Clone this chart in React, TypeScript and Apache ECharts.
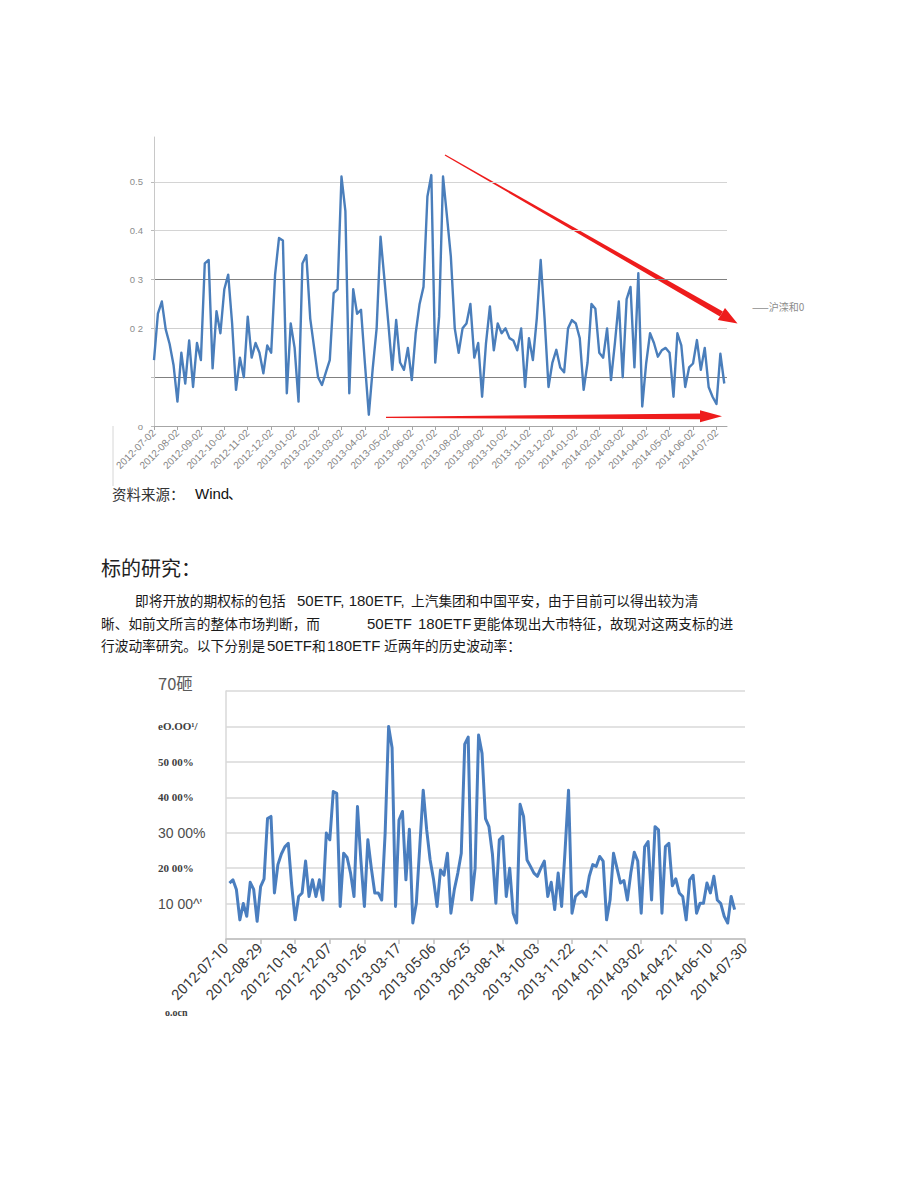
import React, { useEffect, useRef } from 'react';
import * as echarts from 'echarts';

// ---------- Chart 1 (沪深300 volatility, monthly ticks) ----------
const monthLabels1 = [
  '2012-07-02', '2012-08-02', '2012-09-02', '2012-10-02', '2012-11-02', '2012-12-02',
  '2013-01-02', '2013-02-02', '2013-03-02', '2013-04-02', '2013-05-02', '2013-06-02',
  '2013-07-02', '2013-08-02', '2013-09-02', '2013-10-02', '2013-11-02', '2013-12-02',
  '2014-01-02', '2014-02-02', '2014-03-02', '2014-04-02', '2014-05-02', '2014-06-02',
  '2014-07-02',
];
// samples every 1/6 month starting 2012-07-02
const vol1 = [
  0.135, 0.23, 0.255, 0.198, 0.168, 0.125, 0.05, 0.15, 0.087, 0.175,
  0.08, 0.17, 0.135, 0.333, 0.34, 0.118, 0.235, 0.19, 0.28, 0.31,
  0.21, 0.074, 0.14, 0.10, 0.224, 0.14, 0.17, 0.15, 0.108, 0.165,
  0.15, 0.31, 0.385, 0.38, 0.067, 0.21, 0.16, 0.05, 0.333, 0.35,
  0.22, 0.16, 0.1, 0.084, 0.11, 0.135, 0.272, 0.28, 0.511, 0.44,
  0.067, 0.28, 0.23, 0.238, 0.128, 0.023, 0.118, 0.2, 0.388, 0.3,
  0.21, 0.115, 0.217, 0.13, 0.115, 0.16, 0.094, 0.19, 0.25, 0.285,
  0.47, 0.514, 0.13, 0.224, 0.511, 0.43, 0.347, 0.2, 0.15, 0.2,
  0.21, 0.25, 0.14, 0.17, 0.06, 0.17, 0.245, 0.155, 0.21, 0.19,
  0.2, 0.18, 0.175, 0.155, 0.2, 0.08, 0.18, 0.135, 0.22, 0.34,
  0.22, 0.08, 0.13, 0.156, 0.12, 0.11, 0.2, 0.217, 0.21, 0.18,
  0.074, 0.13, 0.25, 0.24, 0.15, 0.14, 0.2, 0.094, 0.17, 0.255,
  0.10, 0.26, 0.285, 0.12, 0.313, 0.04, 0.128, 0.19, 0.17, 0.142,
  0.155, 0.16, 0.15, 0.06, 0.19, 0.165, 0.08, 0.12, 0.128, 0.176,
  0.115, 0.16, 0.08, 0.06, 0.045, 0.148, 0.087,
];
const stepPerMonth1 = 6;
const yLabels1 = ['o', '', '0 2', '0 3', '0.4', '0.5'];
const legend1 = '——沪滦和0';

// ---------- Chart 2 (50ETF historical volatility, 50-day ticks) ----------
const dayLabels2 = [
  '2012-07-10', '2012-08-29', '2012-10-18', '2012-12-07', '2013-01-26', '2013-03-17',
  '2013-05-06', '2013-06-25', '2013-08-14', '2013-10-03', '2013-11-22', '2014-01-11',
  '2014-03-02', '2014-04-21', '2014-06-10', '2014-07-30',
];
// volatility in %, sampled every 5 days starting day 5 after 2012-07-10
const vol2 = [
  15.8, 16.7, 14, 5.4, 10, 6.4, 16, 14, 5, 14.8,
  17, 34, 34.6, 13, 21, 24, 26, 27, 15, 5.4,
  12, 13, 22, 12, 16.7, 12, 16.7, 11, 29.9, 28,
  41.6, 41.1, 9.2, 24.2, 23, 18.6, 12, 37.4, 22, 9.2,
  28, 20, 13, 13, 11, 30, 60, 54, 9.2, 33.6,
  36, 16.7, 31, 4.5, 10, 26, 42, 30.8, 22.3, 16.7,
  9.2, 19.5, 18, 24.2, 7.3, 14, 18.6, 24.2, 55, 57,
  11, 20, 57.6, 52.4, 34, 31.7, 24, 10.1, 28, 29,
  12, 20, 7.3, 4.5, 38, 34.6, 22.3, 20.5, 18.6, 17.7,
  20, 22, 12, 16, 8.3, 18.6, 9.2, 25, 42, 7.3,
  12, 13, 13.5, 12, 17.7, 21, 20.5, 23.3, 22, 5.4,
  11, 24.2, 20, 15.8, 16.5, 11, 18.6, 24.5, 22, 7.3,
  26, 27.5, 11, 31.7, 30.8, 7.3, 26.1, 27, 15, 17,
  13, 12, 5.4, 16.7, 18, 7.3, 10.1, 10.1, 15.8, 13,
  17.7, 11, 10, 6.4, 4.5, 12, 8.3,
];
const startDay2 = 5;
const stepDays2 = 5;
const labelDays2 = 50;
const yLabels2 = ['o.ocn', "10 00^'", '20 00%', '30 00%', '40 00%', '50 00%', 'eO.OO¹/', '70砸'];
const yLabelStyle2 = ['', 'sans', 'serif', 'sans', 'serif', 'serif', 'serif', 'big'];

const CJK = 'Noto Sans CJK SC';
const LAT = 'Liberation Sans';

function txt(text: string, x: number, y: number, fontSize: number, extra: any = {}) {
  return {
    type: 'text',
    x,
    y,
    silent: true,
    style: {
      text,
      fontSize,
      fontFamily: CJK,
      fill: '#1a1a1a',
      verticalAlign: 'middle',
      align: 'left',
      ...extra,
    },
  };
}
const lat = (text: string, x: number, y: number) => txt(text, x, y, 15, { fontFamily: LAT });
const cjk = (text: string, x: number, y: number) => txt(text, x, y, 13.7);

function buildOption() {
  const data1 = vol1.map((v, i) => [i / stepPerMonth1, v]);
  const data2 = vol2.map((v, i) => [startDay2 + i * stepDays2, v]);

  return {
    animation: false,
    backgroundColor: '#ffffff',
    grid: [
      { left: 154, top: 137, width: 573, height: 289, containLabel: false },
      { left: 226, top: 691, width: 519, height: 248, containLabel: false },
    ],
    xAxis: [
      {
        gridIndex: 0,
        type: 'value',
        min: 0,
        max: 24.45,
        interval: 1,
        axisLine: { show: true, lineStyle: { color: '#a6a6a6', width: 1 } },
        axisTick: { show: true, length: 4, lineStyle: { color: '#a6a6a6' } },
        splitLine: { show: false },
        axisLabel: {
          rotate: 45,
          margin: 5,
          fontSize: 10,
          color: '#858585',
          fontFamily: LAT,
          showMaxLabel: false,
          formatter: (val: number) => {
            const i = Math.round(val);
            return Math.abs(val - i) < 1e-6 && monthLabels1[i] ? monthLabels1[i] : '';
          },
        },
      },
      {
        gridIndex: 1,
        type: 'value',
        min: 0,
        max: 750,
        interval: labelDays2,
        axisLine: { show: true, lineStyle: { color: '#bfbfbf', width: 1.5 } },
        axisTick: { show: true, length: 5, lineStyle: { color: '#bfbfbf', width: 1.5 } },
        splitLine: { show: false },
        axisLabel: {
          rotate: 45,
          margin: 7,
          fontSize: 14.5,
          color: '#3a3a3a',
          fontFamily: 'Roboto',
          formatter: (val: number) => dayLabels2[Math.round(val / labelDays2)] || '',
        },
      },
    ],
    yAxis: [
      {
        gridIndex: 0,
        type: 'value',
        min: 0,
        max: 0.592,
        interval: 0.1,
        axisLine: { show: true, lineStyle: { color: '#c8c8c8', width: 1 } },
        axisTick: { show: true, length: 3, lineStyle: { color: '#bbbbbb' } },
        splitLine: {
          show: true,
          showMaxLine: false,
          lineStyle: {
            color: ['#a6a6a6', '#808080', '#cfcfcf', '#808080', '#d4d4d4', '#d4d4d4', 'rgba(0,0,0,0)'],
            width: 1,
          },
        },
        axisLabel: {
          margin: 11,
          fontSize: 9.5,
          color: '#8c8c8c',
          fontFamily: LAT,
          showMaxLabel: false,
          formatter: (val: number) => {
            const i = Math.round(val * 10);
            return Math.abs(val * 10 - i) < 1e-6 ? yLabels1[i] || '' : '';
          },
        },
      },
      {
        gridIndex: 1,
        type: 'value',
        min: 0,
        max: 70,
        interval: 10,
        axisLine: { show: true, lineStyle: { color: '#d9d9d9', width: 1.5 } },
        axisTick: { show: false },
        splitLine: { show: true, lineStyle: { color: '#d9d9d9', width: 1.5 } },
        axisLabel: {
          margin: 68,
          align: 'left',
          formatter: (val: number) => {
            const i = Math.round(val / 10);
            if (i === 0) return '';
            return `{${yLabelStyle2[i]}|${yLabels2[i]}}`;
          },
          rich: {
            sans: { fontFamily: LAT, fontSize: 14, color: '#4d4d4d' },
            serif: { fontFamily: 'Liberation Serif', fontWeight: 'bold', fontSize: 11, color: '#404040' },
            big: { fontFamily: CJK, fontSize: 16.5, color: '#595959', padding: [0, 0, 16, 0] },
          },
        },
      },
    ],
    series: [
      {
        type: 'line',
        name: legend1,
        xAxisIndex: 0,
        yAxisIndex: 0,
        data: data1,
        showSymbol: false,
        symbol: 'none',
        lineStyle: { color: '#4a7ebb', width: 2.4, join: 'round' },
        itemStyle: { color: '#4a7ebb' },
      },
      {
        type: 'line',
        xAxisIndex: 1,
        yAxisIndex: 1,
        data: data2,
        showSymbol: false,
        symbol: 'none',
        lineStyle: { color: '#4a7ebf', width: 3, join: 'round' },
        itemStyle: { color: '#4a7ebf' },
      },
    ],
    graphic: [
      // red trend arrows (annotations)
      {
        type: 'polygon',
        silent: true,
        shape: { points: [[444.7, 155.4], [445.3, 154.6], [722.9, 311.6], [719.9, 316.4]] },
        style: { fill: '#ee1c1c' },
      },
      {
        type: 'polygon',
        silent: true,
        shape: { points: [[717.8, 320], [725, 308], [737.5, 323.5]] },
        style: { fill: '#ee1c1c' },
      },
      {
        type: 'polygon',
        silent: true,
        shape: { points: [[386, 416.8], [702, 413.4], [702, 419.2], [386, 417.9]] },
        style: { fill: '#ee1c1c' },
      },
      {
        type: 'polygon',
        silent: true,
        shape: { points: [[700, 410.3], [722, 416.2], [700, 422.2]] },
        style: { fill: '#ee1c1c' },
      },
      // faint scan border left of chart 1 labels
      {
        type: 'line',
        silent: true,
        shape: { x1: 113, y1: 426, x2: 113, y2: 486 },
        style: { stroke: '#d6d6d6', lineWidth: 1 },
      },
      txt(legend1, 752, 306, 10, { fill: '#8c8c8c' }),
      txt('资料来源：', 112, 493, 14.5, { fill: '#333' }),
      txt('Wind', 195, 493, 15, { fill: '#111', fontFamily: LAT }),
      txt('、', 228, 493, 14, { fill: '#111' }),
      txt('标的研究：', 101, 567, 20, { fill: '#222' }),
      cjk('即将开放的期权标的包括', 135, 600),
      lat('50ETF, 180ETF, ', 297, 600),
      cjk('上汽集团和中国平安，由于目前可以得出较为清', 411, 600),
      cjk('晰、如前文所言的整体市场判断，而', 101, 623),
      lat('50ETF', 367, 623),
      lat('180ETF', 418, 623),
      cjk('更能体现出大市特征，故现对这两支标的进', 473, 623),
      cjk('行波动率研究。以下分别是', 101, 645),
      lat('50ETF', 267, 645),
      cjk('和', 312, 645),
      lat('180ETF', 327, 645),
      cjk('近两年的历史波动率：', 384, 645),
      txt(yLabels2[0], 165, 1012, 10, { fontFamily: 'Liberation Serif', fontWeight: 'bold', fill: '#404040' }),
    ],
  };
}

export default function App() {
  const ref = useRef<HTMLDivElement>(null);
  useEffect(() => {
    document.body.style.margin = '0';
    const chart = echarts.init(ref.current as HTMLDivElement, null, {
      renderer: 'svg',
      width: 920,
      height: 1192,
    });
    chart.setOption(buildOption() as any);
    return () => chart.dispose();
  }, []);
  return (
    <div
      ref={ref}
      style={{ position: 'absolute', left: 0, top: 0, width: 920, height: 1192, background: '#fff' }}
    />
  );
}
